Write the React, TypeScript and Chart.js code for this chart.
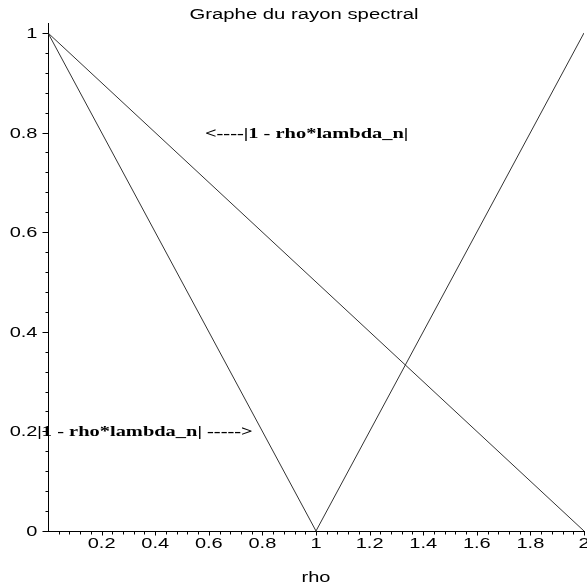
import { useEffect, useRef } from 'react';
import { Chart, registerables } from 'chart.js';

Chart.register(...registerables);

// ---- data ----
const rho = [0, 1, 2];
const absOneMinusRhoLambdaN = [1, 0, 1];
const absOneMinusRhoLambda1 = [1, 0.5, 0];

const xTickValues = [0.2, 0.4, 0.6, 0.8, 1, 1.2, 1.4, 1.6, 1.8, 2];
const xTickLabels = ['0.2', '0.4', '0.6', '0.8', '1', '1.2', '1.4', '1.6', '1.8', '2'];
const yTickValues = [0, 0.2, 0.4, 0.6, 0.8, 1];
const yTickLabels = ['0', '0.2', '0.4', '0.6', '0.8', '1'];
const minorStep = 0.04;

const titleText = 'Graphe du rayon spectral';
const xAxisTitle = 'rho';
const annotationTexts = ['<----|1 - rho*lambda_n|', '|1 - rho*lambda_n| ----->'];
const annotationRho = [0.965, 0.362];
const annotationVal = [0.8, 0.2];

const SANS = '14px "Liberation Sans", Arial, sans-serif';
const SERIF_BOLD = 'bold 14px "Liberation Serif", "Times New Roman", serif';
const STRETCH = 1.43;

function stretchedText(ctx: CanvasRenderingContext2D, text: string, x: number, y: number, align: CanvasTextAlign, baseline: CanvasTextBaseline, font: string, sx: number) {
  ctx.save();
  ctx.translate(x, y);
  ctx.scale(sx, 1);
  ctx.font = font;
  ctx.textAlign = align;
  ctx.textBaseline = baseline;
  ctx.fillStyle = '#000';
  ctx.fillText(text, 0, 0);
  ctx.restore();
}

const decorPlugin = {
  id: 'mapleDecor',
  afterDraw(chart: any) {
    const ctx: CanvasRenderingContext2D = chart.ctx;
    const xs = chart.scales.x;
    const ys = chart.scales.y;
    const area = chart.chartArea;
    const left = Math.round(xs.getPixelForValue(0)) + 0.5;
    const bottom = Math.round(ys.getPixelForValue(0)) + 0.5;
    ctx.save();
    ctx.strokeStyle = '#000';
    ctx.lineWidth = 1;
    // minor ticks
    ctx.beginPath();
    for (let i = 1; i * minorStep <= 1.0001; i++) {
      const py = Math.round(ys.getPixelForValue(i * minorStep)) + 0.5;
      ctx.moveTo(left - 3, py);
      ctx.lineTo(left, py);
    }
    for (let i = 1; i * minorStep <= 2.0001; i++) {
      const px = Math.round(xs.getPixelForValue(i * minorStep)) + 0.5;
      ctx.moveTo(px, bottom);
      ctx.lineTo(px, bottom + 3);
    }
    ctx.stroke();
    // major ticks
    ctx.beginPath();
    yTickValues.forEach((v) => {
      const py = Math.round(ys.getPixelForValue(v)) + 0.5;
      ctx.moveTo(left - 6, py);
      ctx.lineTo(left, py);
    });
    xTickValues.forEach((v) => {
      const px = Math.round(xs.getPixelForValue(v)) + 0.5;
      ctx.moveTo(px, bottom);
      ctx.lineTo(px, bottom + 4);
    });
    ctx.stroke();
    ctx.restore();

    // tick labels
    yTickValues.forEach((v, i) => {
      const py = ys.getPixelForValue(v);
      stretchedText(ctx, yTickLabels[i], left - 11, py + 5, 'right', 'alphabetic', SANS, STRETCH);
    });
    xTickValues.forEach((v, i) => {
      const px = xs.getPixelForValue(v);
      stretchedText(ctx, xTickLabels[i], px, bottom + 16, 'center', 'alphabetic', SANS, STRETCH);
    });

    // title and axis title
    stretchedText(ctx, titleText, 304, 19, 'center', 'alphabetic', SANS, 1.45);
    stretchedText(ctx, xAxisTitle, (area.left + area.right) / 2, 582, 'center', 'alphabetic', SANS, STRETCH);

    // annotations
    annotationTexts.forEach((t, i) => {
      const px = xs.getPixelForValue(annotationRho[i]);
      const py = ys.getPixelForValue(annotationVal[i]);
      stretchedText(ctx, t, px, py + 5, 'center', 'alphabetic', SERIF_BOLD, 1.46);
    });
  },
};

export default function App() {
  const canvasRef = useRef<HTMLCanvasElement | null>(null);

  useEffect(() => {
    if (!canvasRef.current) return;
    const toPoints = (ys: number[]) => rho.map((r, i) => ({ x: r, y: ys[i] }));
    const chart = new Chart(canvasRef.current, {
      type: 'line',
      data: {
        datasets: [
          {
            label: '|1 - rho*lambda_n|',
            data: toPoints(absOneMinusRhoLambdaN),
            borderColor: '#333',
            borderWidth: 1,
            pointRadius: 0,
            tension: 0,
            fill: false,
          },
          {
            label: '|1 - rho*lambda_1|',
            data: toPoints(absOneMinusRhoLambda1),
            borderColor: '#333',
            borderWidth: 1,
            pointRadius: 0,
            tension: 0,
            fill: false,
          },
        ],
      },
      options: {
        animation: false,
        responsive: true,
        maintainAspectRatio: false,
        layout: { padding: { top: 23, right: 3, left: 0, bottom: 0 } },
        plugins: {
          legend: { display: false },
          title: { display: false },
          tooltip: { enabled: false },
        },
        scales: {
          x: {
            type: 'linear',
            min: 0,
            max: 2,
            ticks: { display: false },
            grid: { display: true, drawOnChartArea: false, drawTicks: false },
            border: { display: true, color: '#000', width: 1 },
            afterFit: (s: any) => { s.height = 54; },
          },
          y: {
            type: 'linear',
            min: 0,
            max: 1.02,
            ticks: { display: false },
            grid: { display: true, drawOnChartArea: false, drawTicks: false },
            border: { display: true, color: '#000', width: 1 },
            afterFit: (s: any) => { s.width = 48; },
          },
        },
      },
      plugins: [decorPlugin],
    });
    return () => chart.destroy();
  }, []);

  return (
    <div style={{ position: 'absolute', left: 0, top: 0, width: 587, height: 585, background: '#fff' }}>
      <canvas ref={canvasRef} />
    </div>
  );
}
